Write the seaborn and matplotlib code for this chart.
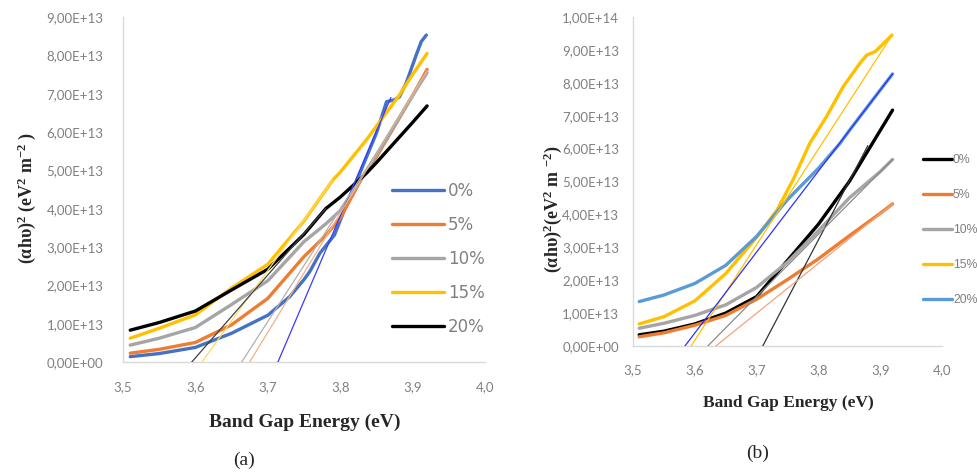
import numpy as np
import pandas as pd
import matplotlib
matplotlib.use("Agg")
import matplotlib.pyplot as plt
import seaborn as sns
from matplotlib.ticker import FuncFormatter, MultipleLocator
from matplotlib.lines import Line2D

sns.set_theme(style="white")
plt.rcParams['font.family'] = ['Lato', 'DejaVu Sans']
plt.rcParams['mathtext.fontset'] = 'custom'
plt.rcParams['mathtext.rm'] = 'Liberation Serif:bold'
plt.rcParams['mathtext.bf'] = 'Liberation Serif:bold'
plt.rcParams['mathtext.it'] = 'Liberation Serif:bold'
plt.rcParams['mathtext.default'] = 'bf'

# ---------------- data: panel (a) ----------------
labels = ["0%", "5%", "10%", "15%", "20%"]
a_x = [3.51, 3.55, 3.60, 3.65, 3.70, 3.75, 3.78, 3.80, 3.83, 3.85, 3.90, 3.92]
a_5 = [0.23, 0.33, 0.51, 0.97, 1.66, 2.75, 3.30, 3.75, 4.80, 5.35, 6.95, 7.63]
a_10 = [0.44, 0.62, 0.90, 1.50, 2.12, 3.14, 3.60, 3.95, 4.80, 5.40, 6.95, 7.55]
a_15_x = [3.51, 3.55, 3.60, 3.65, 3.70, 3.75, 3.79, 3.80, 3.836, 3.85, 3.882, 3.90, 3.92]
a_15 = [0.62, 0.88, 1.23, 1.93, 2.55, 3.68, 4.75, 4.95, 5.79, 6.15, 6.97, 7.50, 8.05]
a_20_x = [3.51, 3.55, 3.60, 3.65, 3.70, 3.75, 3.78, 3.80, 3.836, 3.85, 3.90, 3.92]
a_20 = [0.83, 1.03, 1.33, 1.88, 2.42, 3.33, 4.00, 4.30, 4.92, 5.20, 6.25, 6.68]
a_0_x = [3.51, 3.55, 3.60, 3.65, 3.70, 3.73, 3.75, 3.758, 3.772, 3.783, 3.792, 3.804,
         3.827, 3.850, 3.864, 3.875, 3.882, 3.891, 3.905, 3.912, 3.919]
a_0 = [0.14, 0.22, 0.38, 0.75, 1.22, 1.70, 2.15, 2.36, 2.84, 3.10, 3.31, 3.88,
       4.92, 5.97, 6.79, 6.84, 6.92, 7.27, 8.01, 8.36, 8.53]
a_colors = ["#4472C4", "#ED7D31", "#A5A5A5", "#FFC000", "#000000"]
# tangent lines (a): start x (y=0), end x, end y
a_tan_x0 = [3.714, 3.675, 3.664, 3.609, 3.595]
a_tan_x1 = [3.870, 3.920, 3.920, 3.790, 3.780]
a_tan_y1 = [6.90, 7.60, 7.50, 4.75, 4.00]
a_tan_colors = ["#3a3aff", "#F4B183", "#B0B0B0", "#FFD966", "#404040"]

# ---------------- data: panel (b) ----------------
b_x = [3.51, 3.55, 3.60, 3.65, 3.70, 3.75, 3.80, 3.85, 3.90, 3.92]
b_0 = [0.34, 0.45, 0.67, 1.00, 1.50, 2.60, 3.70, 5.00, 6.55, 7.17]
b_5 = [0.28, 0.40, 0.63, 0.93, 1.42, 2.02, 2.65, 3.35, 4.03, 4.32]
b_10 = [0.54, 0.69, 0.93, 1.25, 1.78, 2.55, 3.50, 4.50, 5.30, 5.67]
b_15_x = [3.51, 3.55, 3.60, 3.65, 3.70, 3.733, 3.759, 3.786, 3.813, 3.84, 3.867, 3.878,
          3.892, 3.911, 3.919]
b_15 = [0.67, 0.89, 1.37, 2.20, 3.30, 4.13, 5.05, 6.16, 6.97, 7.88, 8.59, 8.84,
        8.95, 9.30, 9.45]
b_20_x = [3.51, 3.55, 3.60, 3.65, 3.70, 3.75, 3.80, 3.835, 3.85, 3.90, 3.92]
b_20 = [1.35, 1.55, 1.90, 2.45, 3.33, 4.45, 5.40, 6.16, 6.55, 7.78, 8.27]
b_colors = ["#000000", "#ED7D31", "#A5A5A5", "#FFC000", "#5B9BD5"]
b_tan_x0 = [3.710, 3.634, 3.621, 3.594, 3.584]
b_tan_x1 = [3.880, 3.920, 3.920, 3.920, 3.920]
b_tan_y1 = [6.09, 4.32, 5.67, 9.47, 8.27]
b_tan_colors = ["#333333", "#F4A27A", "#8a8a8a", "#FFC000", "#2F2FFF"]

SCALE = 1e13


def long_df(xs, ys):
    rows = []
    for lab, x, y in zip(labels, xs, ys):
        for xi, yi in zip(x, y):
            rows.append((lab, xi, yi * SCALE))
    return pd.DataFrame(rows, columns=["series", "E", "val"])


fig = plt.figure(figsize=(9.78, 4.74), dpi=100)
W, H = 978, 474
axA = fig.add_axes([123 / W, 1 - 362 / H, 362 / W, 345 / H])
axB = fig.add_axes([633 / W, 1 - 346 / H, 309 / W, 329 / H])

sci = FuncFormatter(lambda v, p: f"{v:.2E}".replace('.', ','))
xf = FuncFormatter(lambda v, p: f"{v:.1f}".replace('.', ','))

dfa = long_df([a_0_x, a_x, a_x, a_15_x, a_20_x], [a_0, a_5, a_10, a_15, a_20])
dfb = long_df([b_x, b_x, b_x, b_15_x, b_20_x], [b_0, b_5, b_10, b_15, b_20])

for ax, df, cols, tx0, tx1, ty1, tcols, ymax in [
        (axA, dfa, a_colors, a_tan_x0, a_tan_x1, a_tan_y1, a_tan_colors, 9e13),
        (axB, dfb, b_colors, b_tan_x0, b_tan_x1, b_tan_y1, b_tan_colors, 1e14)]:
    sns.lineplot(data=df, x="E", y="val", hue="series", palette=dict(zip(labels, cols)),
                 hue_order=labels, sort=False, estimator=None, lw=2.4, ax=ax, legend=False)
    for x0, x1, y1, c in zip(tx0, tx1, ty1, tcols):
        ax.plot([x0, x1], [0, y1 * SCALE], color=c, lw=0.9, zorder=5)
    ax.set_xlim(3.5, 4.0)
    ax.set_ylim(0, ymax)
    ax.xaxis.set_major_locator(MultipleLocator(0.1))
    ax.yaxis.set_major_locator(MultipleLocator(1e13))
    ax.xaxis.set_major_formatter(xf)
    ax.yaxis.set_major_formatter(sci)
    for s in ["top", "right"]:
        ax.spines[s].set_visible(False)
    for s in ["left", "bottom"]:
        ax.spines[s].set_color("#d9d9d9")
        ax.spines[s].set_linewidth(1.0)
    ax.tick_params(axis='both', length=0, labelsize=9.5, colors="#808080")
    ax.set_xlabel("")
    ax.set_ylabel("")
    ax.grid(False)

axA.tick_params(axis='y', pad=14)
axA.tick_params(axis='x', pad=14)
axB.tick_params(axis='y', pad=10)
axB.tick_params(axis='x', pad=13)

# legends
ha = [Line2D([], [], color=c, lw=2.4) for c in a_colors]
legA = fig.legend(ha, labels, loc="upper left", bbox_to_anchor=(392 / W, 1 - 182 / H),
                  frameon=False, borderpad=0, borderaxespad=0, handlelength=3.1,
                  handletextpad=0.25, labelspacing=0.96,
                  prop={'family': 'DejaVu Sans', 'size': 12})
for t in legA.get_texts():
    t.set_color("#808080")
hb = [Line2D([], [], color=c, lw=2.4) for c in b_colors]
legB = fig.legend(hb, labels, loc="upper left", bbox_to_anchor=(923 / W, 1 - 154 / H),
                  frameon=False, borderpad=0, borderaxespad=0, handlelength=2.4,
                  handletextpad=0.05, labelspacing=1.88,
                  prop={'family': 'Liberation Sans', 'size': 8.8})
for t in legB.get_texts():
    t.set_color("#7f7f7f")

serif = ['Liberation Serif', 'DejaVu Serif']
fig.text(305 / W, 1 - 422 / H, "Band Gap Energy (eV)", ha="center", va="center",
         family=serif, weight="bold", size=14)
fig.text(788 / W, 1 - 403 / H, "Band Gap Energy (eV)", ha="center", va="center",
         family=serif, weight="bold", size=12.5)
fig.text(27 / W, 1 - 198 / H, "(αhυ)$^2$ (eV$^2$ m$^{-2}$ )", ha="center", va="center",
         rotation=90, family=serif, weight="bold", size=13)
fig.text(553 / W, 1 - 209 / H, "(αhυ)$^2$(eV$^2$ m $^{-2}$)", ha="center", va="center",
         rotation=90, family=serif, weight="bold", size=13)
fig.text(244 / W, 1 - 460 / H, "(a)", ha="center", va="center", family=serif, size=14)
fig.text(758 / W, 1 - 453 / H, "(b)", ha="center", va="center", family=serif, size=14)

fig.savefig("out.png", dpi=100, facecolor="white")
